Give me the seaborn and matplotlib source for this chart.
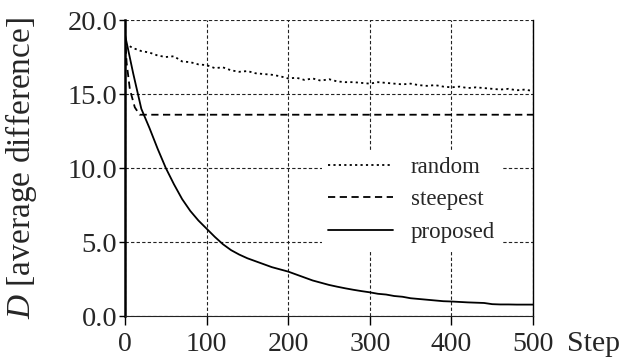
import seaborn as sns
import pandas as pd
import matplotlib.pyplot as plt
import numpy as np

# data
steps = list(range(0, 510, 10))

random_d = [18.4, 18.1, 17.9, 17.8, 17.6, 17.5, 17.55, 17.2, 17.15, 17.0,
            16.95, 16.75, 16.8, 16.6, 16.5, 16.55, 16.4, 16.35, 16.3, 16.2,
            16.05, 16.1, 15.95, 16.05, 15.9, 16.0, 15.85, 15.8, 15.8, 15.75,
            15.7, 15.8, 15.75, 15.7, 15.65, 15.7, 15.6, 15.55, 15.6, 15.5,
            15.45, 15.5, 15.4, 15.45, 15.4, 15.35, 15.3, 15.35, 15.25, 15.3,
            15.2]

proposed_d = [19.0, 16.4, 14.0, 12.7, 11.3, 10.0, 8.9, 7.9, 7.1, 6.45,
              5.9, 5.35, 4.85, 4.45, 4.15, 3.9, 3.7, 3.5, 3.3, 3.15,
              3.0, 2.8, 2.6, 2.4, 2.25, 2.1, 1.98, 1.87, 1.77, 1.68,
              1.6, 1.5, 1.45, 1.35, 1.3, 1.2, 1.15, 1.1, 1.05, 1.0,
              0.98, 0.95, 0.92, 0.9, 0.88, 0.8, 0.78, 0.78, 0.77, 0.77,
              0.77]

steepest_steps = [0, 2, 6, 12, 18, 500]
steepest_d = [19.0, 17.1, 15.3, 14.1, 13.6, 13.6]

x_ticks = [0, 100, 200, 300, 400, 500]
y_ticks = [0.0, 5.0, 10.0, 15.0, 20.0]

sns.set_style("white")
plt.rcParams["font.family"] = ["Liberation Serif", "DejaVu Serif"]
plt.rcParams["mathtext.fontset"] = "custom"
plt.rcParams["mathtext.it"] = "Liberation Serif:italic"
plt.rcParams["mathtext.rm"] = "Liberation Serif"

df_main = pd.DataFrame({"step": steps, "random": random_d, "proposed": proposed_d})
df_steep = pd.DataFrame({"step": steepest_steps, "steepest": steepest_d})

fig = plt.figure(figsize=(6.27, 3.6), dpi=100)
ax = fig.add_axes([125 / 627, 44 / 360, 408 / 627, 296 / 360])

sns.lineplot(data=df_main, x="step", y="random", ax=ax, color="black",
             linestyle=(0, (1.2, 1.8)), linewidth=1.3, label="random")
sns.lineplot(data=df_steep, x="step", y="steepest", ax=ax, color="black",
             linestyle=(0, (4, 2.5)), linewidth=1.3, label="steepest")
sns.lineplot(data=df_main, x="step", y="proposed", ax=ax, color="black",
             linestyle="-", linewidth=1.3, label="proposed")

ax.set_xlim(0, 500)
ax.set_ylim(0, 20)
ax.set_xticks(x_ticks)
ax.set_yticks(y_ticks)
ax.set_yticklabels([f"{v:.1f}" for v in y_ticks])
ax.grid(True, color="#222222", linestyle=(0, (3, 2)), linewidth=0.8)

ax.spines["top"].set_visible(False)
ax.spines["bottom"].set_linewidth(0.8)
ax.spines["bottom"].set_color("#222222")
ax.spines["left"].set_linewidth(1.8)
ax.spines["left"].set_color("black")
ax.spines["right"].set_linewidth(1.0)
ax.spines["right"].set_color("black")

ax.tick_params(axis="x", direction="out", length=6.5, width=1.0, color="black",
               bottom=True, labelsize=20, pad=5)
ax.tick_params(axis="y", direction="out", length=4.5, width=1.0, color="black",
               left=True, labelsize=20.5, pad=1)

ax.set_ylabel("$D$ [average difference]", fontsize=24)
ax.yaxis.set_label_coords(-0.212, 0.5)
ax.set_xlabel("Step", fontsize=21.5, ha="left", va="center")
ax.xaxis.set_label_coords(1.083, -0.095)

ax.legend(loc="center", bbox_to_anchor=(0.703, 0.392), fontsize=16.5,
          frameon=True, facecolor="white", edgecolor="none", framealpha=1,
          fancybox=False, handlelength=2.8, handletextpad=0.8,
          labelspacing=0.5, borderpad=0.3)

plt.savefig("out.png", dpi=100)
plt.close()
